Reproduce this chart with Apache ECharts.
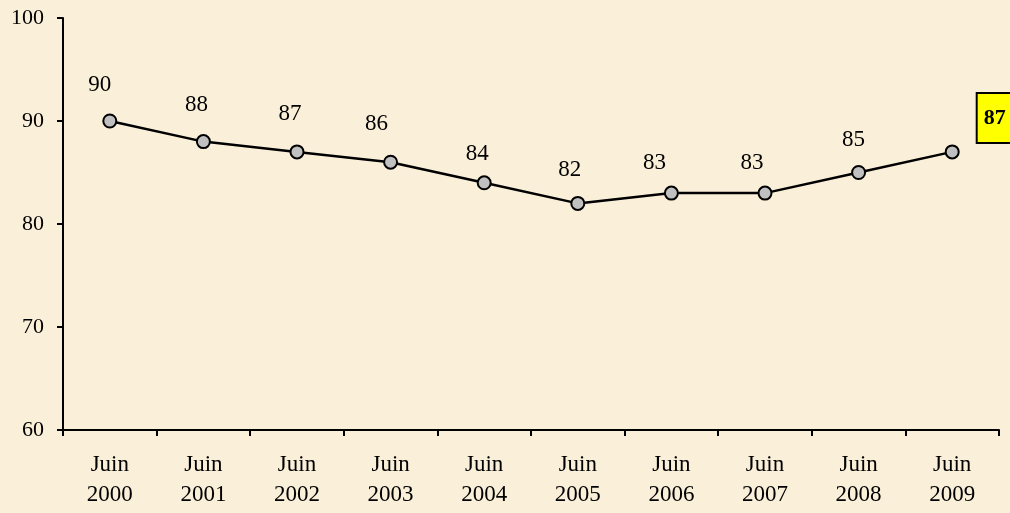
<!DOCTYPE html>
<html>
<head>
<meta charset="utf-8">
<script src="https://cdn.jsdelivr.net/npm/echarts@6/dist/echarts.min.js"></script>
<style>
  html, body { margin: 0; padding: 0; }
  body { background: #FAEFD8; }
  #chart { width: 1010px; height: 513px; }
</style>
</head>
<body>
<div id="chart"></div>
<script>
// Annual values, June of each year
const years = ['2000', '2001', '2002', '2003', '2004', '2005', '2006', '2007', '2008', '2009'];
const categories = years.map(y => 'Juin\n' + y);
const values = [90, 88, 87, 86, 84, 82, 83, 83, 85, 87];
const yTicks = [60, 70, 80, 90, 100];

// Hand-placed label nudges (px): horizontal shift, lift above the point
const labelShiftX = [-10, -7, -7, -14, -7, -8, -17, -13, -5];
const labelLift = [36, 36, 37, 38, 28, 33, 30, 30, 32];

const serif = '"Liberation Serif", "Times New Roman", serif';
const lastIndex = values.length - 1;

const seriesData = values.map((v, i) => {
  if (i !== lastIndex) {
    return { value: v, label: { offset: [labelShiftX[i], 36 - labelLift[i]] } };
  }
  // Latest value gets a highlighted yellow box to the right of its point
  return {
    value: v,
    label: {
      position: 'right',
      offset: [1, -34],
      fontWeight: 'bold',
      fontSize: 22,
      lineHeight: 24,
      backgroundColor: '#FFFF00',
      borderColor: '#000',
      borderWidth: 2,
      padding: [12, 6, 12, 6]
    }
  };
});

const chart = echarts.init(document.getElementById('chart'));
chart.setOption({
  backgroundColor: 'transparent',
  animation: false,
  grid: { left: 63, right: 11, top: 18, bottom: 83, containLabel: false },
  xAxis: {
    type: 'category',
    data: categories,
    boundaryGap: true,
    axisLine: { lineStyle: { color: '#000', width: 2 } },
    axisTick: { show: true, length: 6, inside: false, lineStyle: { color: '#000', width: 2 } },
    axisLabel: {
      color: '#000',
      fontFamily: serif,
      fontSize: 23,
      lineHeight: 30,
      margin: 20,
      interval: 0
    },
    splitLine: { show: false }
  },
  yAxis: {
    type: 'value',
    min: yTicks[0],
    max: yTicks[yTicks.length - 1],
    interval: 10,
    axisLine: { show: true, lineStyle: { color: '#000', width: 2 } },
    axisTick: { show: true, length: 6, lineStyle: { color: '#000', width: 2 } },
    axisLabel: {
      color: '#000',
      fontFamily: serif,
      fontSize: 22,
      margin: 19
    },
    splitLine: { show: false }
  },
  series: [{
    type: 'line',
    data: seriesData,
    symbol: 'circle',
    symbolSize: 13,
    lineStyle: { color: '#000', width: 2.5 },
    itemStyle: { color: '#C0C0C0', borderColor: '#000', borderWidth: 2 },
    label: {
      show: true,
      position: 'top',
      distance: 17,
      color: '#000',
      fontFamily: serif,
      fontSize: 23,
      lineHeight: 24
    },
    z: 3
  }]
});
</script>
</body>
</html>
